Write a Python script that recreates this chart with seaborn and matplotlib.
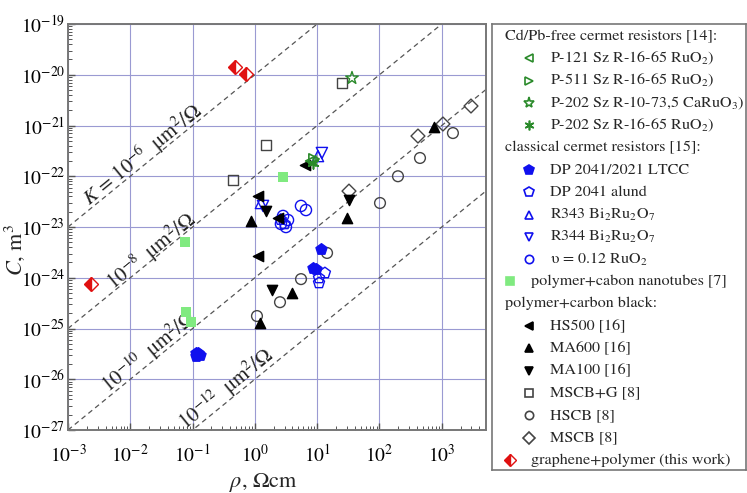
import numpy as np
import matplotlib
matplotlib.use("Agg")
import matplotlib.pyplot as plt
import seaborn as sns
from matplotlib.ticker import LogLocator, NullFormatter, FuncFormatter

# ---------------- data (rho in Ohm*cm, C in m^3) ----------------
graphene_rho = [0.0023, 0.48, 0.72]
graphene_C = [7.5e-25, 1.4e-20, 1.03e-20]

cnt_rho = [0.0755, 0.078, 0.094, 2.83]
cnt_C = [5.1e-24, 2.1e-25, 1.34e-25, 9.7e-23]

ltcc_rho = [0.112, 0.118, 0.124, 0.13, 0.115, 8.6, 9.5, 11.5]
ltcc_C = [3.3e-26, 3.1e-26, 3.3e-26, 3.0e-26, 2.9e-26, 1.55e-24, 1.5e-24, 3.7e-24]

alund_rho = [13.3, 10.7, 10.7, 3.0, 2.6]
alund_C = [1.24e-24, 9.9e-25, 7.9e-25, 1.15e-23, 1.4e-23]

ru012_rho = [5.5, 6.6, 2.83, 3.4, 2.62, 3.15]
ru012_C = [2.6e-23, 2.16e-23, 1.65e-23, 1.37e-23, 1.15e-23, 1.0e-23]

r343_rho = [10.3, 1.25]
r343_C = [2.5e-22, 2.97e-23]
r344_rho = [11.9, 1.35]
r344_C = [2.87e-22, 2.6e-23]

p121_rho = [7.9]
p121_C = [2.0e-22]
p511_rho = [8.9]
p511_C = [2.19e-22]
p202ca_rho = [36.2]
p202ca_C = [8.6e-21]
p202ru_rho = [8.6]
p202ru_C = [1.82e-22]

hs500_rho = [1.12, 2.35, 6.37, 1.12]
hs500_C = [4.08e-23, 1.5e-23, 1.67e-22, 2.69e-24]
ma600_rho = [0.865, 30.1, 3.94, 1.21, 750]
ma600_C = [1.31e-23, 1.5e-23, 5.0e-25, 1.28e-25, 9.3e-22]
ma100_rho = [1.51, 32.4, 1.88]
ma100_C = [2.07e-23, 3.4e-23, 5.7e-25]
mscbg_rho = [0.445, 1.51, 25.0]
mscbg_C = [8.4e-23, 4.1e-22, 6.9e-21]
hscb_rho = [1510, 447, 198, 102, 14.4, 5.5, 2.53, 1.08]
hscb_C = [7.1e-22, 2.29e-22, 1.0e-22, 2.97e-23, 3.08e-24, 9.4e-25, 3.3e-25, 1.76e-25]
mscb_rho = [415, 1045, 2945, 32.4]
mscb_C = [6.2e-22, 1.07e-21, 2.42e-21, 5.1e-23]

# K lines (um^2/Ohm): C = K * 1e-14 * rho
k_values = [1e-6, 1e-8, 1e-10, 1e-12]
k_labels = ["$K$ = 10$^{-6}$  μm$^{2}$/Ω", "10$^{-8}$  μm$^{2}$/Ω",
            "10$^{-10}$  μm$^{2}$/Ω", "10$^{-12}$  μm$^{2}$/Ω"]
k_label_rho = [10**-1.81, 10**-1.66, 10**-1.70, 10**-0.45]
k_label_off = [0.24, 0.17, 0.24, 0.25]   # decades above line

x_lim = (1e-3, 10**3.71)
y_lim = (1e-27, 1e-19)

# ---------------- style ----------------
sns.set_theme(style="white")
plt.rcParams['font.family'] = ['STIXGeneral', 'DejaVu Serif']
plt.rcParams['mathtext.fontset'] = 'stix'

W, H = 747, 493
fig = plt.figure(figsize=(W / 100, H / 100), dpi=100)
fig.patch.set_facecolor("white")
L, R, T, B = 68, 486, 24, 430
ax = fig.add_axes([L / W, 1 - B / H, (R - L) / W, (B - T) / H])
ax.set_xscale("log")
ax.set_yscale("log")
ax.set_xlim(*x_lim)
ax.set_ylim(*y_lim)

def pow_fmt(v, pos):
    e = int(round(np.log10(v)))
    return "10$^{%d}$" % e

ax.xaxis.set_major_locator(LogLocator(base=10, numticks=20))
ax.yaxis.set_major_locator(LogLocator(base=10, numticks=20))
ax.xaxis.set_major_formatter(FuncFormatter(pow_fmt))
ax.yaxis.set_major_formatter(FuncFormatter(pow_fmt))
ax.xaxis.set_minor_locator(LogLocator(base=10, subs=np.arange(2, 10), numticks=50))
ax.yaxis.set_minor_locator(LogLocator(base=10, subs=np.arange(2, 10), numticks=50))
ax.xaxis.set_minor_formatter(NullFormatter())
ax.yaxis.set_minor_formatter(NullFormatter())
ax.grid(True, which="major", color="#9a9ad2", linewidth=0.8)
ax.tick_params(which="both", direction="in", bottom=True, left=True, top=False, right=False,
               colors="#555555", labelcolor="black")
ax.tick_params(which="major", length=5, width=1, labelsize=14)
ax.tick_params(axis="x", which="major", pad=10)
ax.tick_params(axis="y", which="major", pad=2)
ax.tick_params(which="minor", length=3, width=0.7)
for s in ax.spines.values():
    s.set_color("#777777")
    s.set_linewidth(1.4)

# K lines
line_rho = np.array(x_lim)
for k in k_values:
    sns.lineplot(x=line_rho, y=k * 1e-14 * line_rho, ax=ax, color="#555555",
                 linewidth=0.9, linestyle=(0, (4, 3)), zorder=2)

fig.canvas.draw()
p1 = ax.transData.transform((1.0, 1e-20))
p2 = ax.transData.transform((10.0, 1e-19))
ang = np.degrees(np.arctan2(p2[1] - p1[1], p2[0] - p1[0]))
for k, lab, xr, off in zip(k_values, k_labels, k_label_rho, k_label_off):
    yv = k * 1e-14 * xr * 10**off
    ax.text(xr, yv, lab, rotation=ang, rotation_mode="anchor", ha="center", va="center",
            fontsize=15, color="#222222", zorder=3)

green = "#2a8a2a"
blue = "#1010ee"
gray = "#444444"
lg = "#80ea80"
red = "#e01010"

def sc(x, y, marker, face, edge, size=55, lw=1.0, z=4):
    sns.scatterplot(x=x, y=y, ax=ax, marker=marker, s=size, facecolor=face,
                    edgecolor=edge, linewidth=lw, zorder=z, legend=False)

sc(cnt_rho, cnt_C, "s", lg, "none", 50, 0)
sc(hscb_rho, hscb_C, "o", "none", gray, 60)
sc(mscb_rho, mscb_C, "D", "none", gray, 50)
sc(mscbg_rho, mscbg_C, "s", "none", gray, 50)
sc(ltcc_rho, ltcc_C, "p", blue, blue, 70)
sc(alund_rho, alund_C, "p", "none", blue, 70)
sc(ru012_rho, ru012_C, "o", "none", blue, 65)
sc(r343_rho, r343_C, "^", "none", blue, 65)
sc(r344_rho, r344_C, "v", "none", blue, 65)
sc(hs500_rho, hs500_C, "<", "black", "black", 55)
sc(ma600_rho, ma600_C, "^", "black", "black", 55)
sc(ma100_rho, ma100_C, "v", "black", "black", 55)
sc(p121_rho, p121_C, "<", "none", green, 55, 1.2)
sc(p511_rho, p511_C, ">", "none", green, 55, 1.2)
sc(p202ca_rho, p202ca_C, "*", "none", green, 90, 1.0)
sns.scatterplot(x=p202ru_rho, y=p202ru_C, ax=ax, marker=(6, 2, 0), s=60, color=green,
                linewidth=1.2, zorder=4, legend=False)
ax.plot(graphene_rho, graphene_C, linestyle="none", marker="D", markersize=7,
        fillstyle="left", markerfacecolor=red, markerfacecoloralt="white",
        markeredgecolor=red, markeredgewidth=1.0, zorder=5)

ax.set_xlabel("$\\rho$, Ωcm", fontsize=16, va="center")
ax.set_ylabel("$C$, m$^{3}$", fontsize=16, va="center")
ax.xaxis.set_label_coords((263 - L) / (R - L), (B - 483) / (B - T))
ax.yaxis.set_label_coords((15 - L) / (R - L), (B - 250) / (B - T))

# ---------------- legend (drawn in its own panel) ----------------
LX0, LX1, LY0, LY1 = 492, 746, 24, 470
lax = fig.add_axes([LX0 / W, 1 - LY1 / H, (LX1 - LX0) / W, (LY1 - LY0) / H])
lax.set_xlim(LX0, LX1)
lax.set_ylim(LY1, LY0)
lax.set_xticks([])
lax.set_yticks([])
for s in lax.spines.values():
    s.set_color("#777777")
    s.set_linewidth(1.2)

rows = [
    ("h", "Cd/Pb-free cermet resistors [14]:", None),
    ("i", "P-121 Sz R-16-65 RuO$_2$)", dict(marker="<", mfc="none", mec=green)),
    ("i", "P-511 Sz R-16-65 RuO$_2$)", dict(marker=">", mfc="none", mec=green)),
    ("i", "P-202 Sz R-10-73,5 CaRuO$_3$)", dict(marker="*", mfc="none", mec=green, ms=8)),
    ("i", "P-202 Sz R-16-65 RuO$_2$)", dict(marker=(6, 2, 0), mfc=green, mec=green, ms=7)),
    ("h", "classical cermet resistors [15]:", None),
    ("i", "DP 2041/2021 LTCC", dict(marker="p", mfc=blue, mec=blue, ms=7)),
    ("i", "DP 2041 alund", dict(marker="p", mfc="none", mec=blue, ms=7)),
    ("i", "R343 Bi$_2$Ru$_2$O$_7$", dict(marker="^", mfc="none", mec=blue)),
    ("i", "R344 Bi$_2$Ru$_2$O$_7$", dict(marker="v", mfc="none", mec=blue)),
    ("i", "υ = 0.12 RuO$_2$", dict(marker="o", mfc="none", mec=blue)),
    ("o", "polymer+cabon nanotubes [7]", dict(marker="s", mfc=lg, mec=lg)),
    ("h", "polymer+carbon black:", None),
    ("i", "HS500 [16]", dict(marker="<", mfc="black", mec="black")),
    ("i", "MA600 [16]", dict(marker="^", mfc="black", mec="black")),
    ("i", "MA100 [16]", dict(marker="v", mfc="black", mec="black")),
    ("i", "MSCB+G [8]", dict(marker="s", mfc="none", mec=gray)),
    ("i", "HSCB [8]", dict(marker="o", mfc="none", mec=gray)),
    ("i", "MSCB [8]", dict(marker="D", mfc="none", mec=gray, ms=6)),
    ("g", "graphene+polymer (this work)", None),
]
row_h = (LY1 - LY0) / len(rows)
for i, (kind, text, mk) in enumerate(rows):
    yy = LY0 + row_h * (i + 0.5) + 1
    if kind == "h":
        lax.text(505, yy, text, fontsize=11.6, ha="left", va="center")
        continue
    if kind == "i":
        mx, tx = 529, 550
    else:
        mx, tx = 510, 531
    if kind == "g":
        lax.plot([mx], [yy], linestyle="none", marker="D", markersize=6, fillstyle="left",
                 markerfacecolor=red, markerfacecoloralt="white", markeredgecolor=red,
                 markeredgewidth=1.0)
    else:
        ms = mk.pop("ms", 6)
        lax.plot([mx], [yy], linestyle="none", markersize=ms, markeredgewidth=1.2,
                 marker=mk["marker"], markerfacecolor=mk["mfc"], markeredgecolor=mk["mec"])
    lax.text(tx, yy, text, fontsize=11.6, ha="left", va="center")

fig.savefig("out.png", dpi=100, facecolor="white")
